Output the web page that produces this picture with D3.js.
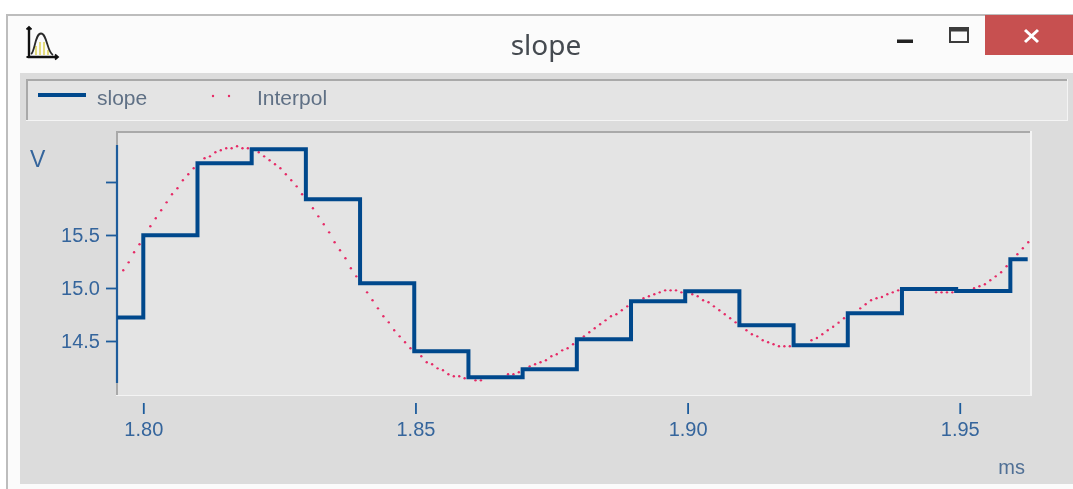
<!DOCTYPE html>
<html>
<head>
<meta charset="utf-8">
<title>slope</title>
<script src="https://cdn.jsdelivr.net/npm/d3@7/dist/d3.min.js"></script>
<style>
html,body{margin:0;padding:0;background:#fff;overflow:hidden}
svg{display:block;filter:blur(0.4px)}
text{font-family:"Liberation Sans",Arial,sans-serif}
</style>
</head>
<body>
<div id="chart"></div>
<script>
// Step series "slope": start time of each step (ms) and its value (V)
const stepTimes = [1.7952,1.80,1.81,1.82,1.83,1.84,1.85,1.86,1.87,1.88,1.89,1.90,1.91,1.92,1.93,1.94,1.95,1.96,1.9632];
const stepValues = [14.722,15.497,16.176,16.308,15.837,15.044,14.403,14.158,14.233,14.516,14.875,14.969,14.648,14.459,14.761,14.991,14.972,15.271,15.271];

// Dotted series "Interpol": visible samples (ms, V); samples hidden under the step line are left out
const interpTimes = [1.796,1.797,1.798,1.799,1.801,1.802,1.803,1.804,1.805,1.806,1.807,1.808,1.809,1.811,1.812,1.813,1.814,1.815,1.816,1.817,1.818,1.819,1.821,1.822,1.823,1.824,1.825,1.826,1.827,1.828,1.829,1.831,1.832,1.833,1.834,1.835,1.836,1.837,1.838,1.839,1.841,1.842,1.843,1.844,1.845,1.846,1.847,1.848,1.849,1.851,1.852,1.853,1.854,1.855,1.856,1.857,1.858,1.859,1.861,1.862,1.867,1.868,1.869,1.871,1.872,1.873,1.874,1.875,1.876,1.877,1.878,1.879,1.881,1.882,1.883,1.884,1.885,1.886,1.887,1.888,1.889,1.892,1.893,1.894,1.895,1.896,1.897,1.898,1.899,1.901,1.902,1.903,1.904,1.905,1.906,1.907,1.908,1.909,1.911,1.912,1.913,1.914,1.915,1.916,1.917,1.918,1.919,1.923,1.924,1.925,1.926,1.927,1.928,1.929,1.932,1.933,1.934,1.935,1.936,1.937,1.938,1.939,1.946,1.947,1.948,1.949,1.953,1.954,1.955,1.956,1.957,1.958,1.959,1.961,1.962,1.963];
const interpValues = [15.167,15.242,15.337,15.412,15.582,15.658,15.733,15.808,15.884,15.941,16.016,16.073,16.129,16.224,16.242,16.28,16.299,16.318,16.318,16.337,16.318,16.318,16.28,16.242,16.205,16.167,16.129,16.073,16.016,15.959,15.884,15.752,15.676,15.601,15.525,15.431,15.356,15.28,15.186,15.11,14.959,14.884,14.808,14.733,14.676,14.601,14.544,14.488,14.431,14.356,14.299,14.28,14.242,14.224,14.186,14.167,14.167,14.148,14.129,14.129,14.186,14.186,14.205,14.261,14.28,14.299,14.318,14.356,14.375,14.412,14.431,14.469,14.544,14.582,14.62,14.658,14.695,14.733,14.752,14.79,14.827,14.903,14.922,14.941,14.959,14.978,14.978,14.978,14.959,14.941,14.922,14.884,14.865,14.827,14.79,14.752,14.714,14.676,14.601,14.563,14.544,14.507,14.488,14.469,14.45,14.45,14.45,14.507,14.528,14.563,14.601,14.635,14.673,14.714,14.808,14.846,14.884,14.903,14.915,14.941,14.959,14.978,14.959,14.959,14.959,14.959,14.997,15.016,15.035,15.073,15.11,15.148,15.205,15.318,15.375,15.431];

// Axis content
const xTicks = [1.80,1.85,1.90,1.95];
const xTickLabels = ["1.80","1.85","1.90","1.95"];
const yTicks = [14.5,15.0,15.5,16.0];
const yTickLabels = ["14.5","15.0","15.5",""];
const xUnit = "ms", yUnit = "V";
const chartTitle = "slope";
const legendNames = ["slope","Interpol"];

// The samples run slightly slower than the printed time axis
const clock = 0.9956, clockOrigin = 1.80, interpShift = 0.0003;
const sampleTime = t => clockOrigin + (t - clockOrigin) * clock;

const W = 1073, H = 489;
const plot = {l:117, r:1030, t:131, b:395};
const BLUE = "#00488c", AXIS = "#1d5c9c", TXT = "#35659c", DOT = "#e62a66";

const svg = d3.select("#chart").append("svg").attr("width",W).attr("height",H);
const rect = (x,y,w,h,f,g=svg) => g.append("rect").attr("x",x).attr("y",y).attr("width",w).attr("height",h).attr("fill",f);

// Window frame
rect(0,0,W,H,"#ffffff");
rect(6,14,W-6,H-14,"#bdbdbd");
rect(8,16,W-8,H-16,"#fbfbfb");
rect(985,15,88,40,"#c75050");
rect(20,73,W-20,411,"#dcdcdc");

// Title
svg.append("text").attr("x",546).attr("y",55).attr("text-anchor","middle")
  .style("font-family","'Noto Sans','Open Sans',sans-serif").attr("font-size",28).attr("fill","#454a50").text(chartTitle);

// Window buttons
rect(897,39.5,16,3.5,"#222");
svg.append("rect").attr("x",950).attr("y",28).attr("width",18).attr("height",14).attr("fill","none").attr("stroke","#3c3c3c").attr("stroke-width",2);
rect(950,28,18,3.5,"#3c3c3c");
svg.append("path").attr("d","M1025 30L1038 42M1038 30L1025 42").attr("stroke","#fff").attr("stroke-width",3).attr("fill","none");

// App icon
const icon = svg.append("g").attr("fill","none");
icon.append("path").attr("d","M36 46V55M40 42V55M44 42V55M48 50V55").attr("stroke","#d9cc3a").attr("stroke-width",1.3);
icon.append("path").attr("d","M31 54C35 52 35 33.5 41 33.5C47 33.5 47 52 53 55").attr("stroke","#2a2a2a").attr("stroke-width",1.8);
icon.append("path").attr("d","M29 28V57H57").attr("stroke","#111").attr("stroke-width",2.4);
icon.append("path").attr("d","M26.5 29.5L29 27L31.5 29.5M55 54.5L58 57L55 59.5M26.5 57H30").attr("stroke","#111").attr("stroke-width",1.8);

// Legend box
rect(26,79,1042,42,"#f4f4f4");
rect(26,79,1041,41,"#a9a9a9");
rect(28,81,1039,39,"#e4e4e4");
svg.append("line").attr("x1",38).attr("x2",86).attr("y1",95).attr("y2",95).attr("stroke",BLUE).attr("stroke-width",4);
svg.selectAll(".ldot").data([213,229]).join("circle").attr("class","ldot").attr("cx",d=>d).attr("cy",96).attr("r",1.2).attr("fill",DOT);
svg.append("text").attr("x",97).attr("y",105).attr("font-size",21).attr("fill","#5f7085").text(legendNames[0]);
svg.append("text").attr("x",257).attr("y",105).attr("font-size",21).attr("fill","#5f7085").text(legendNames[1]);

// Plot background
rect(plot.l-1,plot.t,plot.r-plot.l+3,plot.b-plot.t+1,"#f4f4f4");
rect(plot.l-1,plot.t,plot.r-plot.l+1,plot.b-plot.t,"#a9a9a9");
rect(plot.l+1,plot.t+2,plot.r-plot.l-1,plot.b-plot.t-2,"#e4e4e4");

// Scales
const x = d3.scaleLinear().domain([1.7952,1.9630]).range([143.3+5443*(1.7952-1.80),143.3+5443*(1.9630-1.80)]);
const y = d3.scaleLinear().domain([13.9906,16.481]).range([plot.b,plot.t]);

// Axes
const yAxis = d3.axisLeft(y).tickValues(yTicks).tickSize(11).tickPadding(6).tickFormat((d,i)=>yTickLabels[i]);
const gy = svg.append("g").attr("transform",`translate(${plot.l},0)`).call(yAxis);
gy.select(".domain").remove();
gy.selectAll("line").attr("stroke",AXIS).attr("stroke-width",1.8);
gy.selectAll("text").attr("font-size",20).attr("fill",TXT).style("font-family","'Liberation Sans',Arial,sans-serif");
svg.append("line").attr("x1",plot.l).attr("x2",plot.l).attr("y1",145).attr("y2",383).attr("stroke",AXIS).attr("stroke-width",2.2);

const xAxis = d3.axisBottom(x).tickValues(xTicks).tickSize(11).tickPadding(8).tickFormat((d,i)=>xTickLabels[i]);
const gx = svg.append("g").attr("transform","translate(0,403)").call(xAxis);
gx.select(".domain").remove();
gx.selectAll("line").attr("stroke",AXIS).attr("stroke-width",1.8);
gx.selectAll("text").attr("font-size",20).attr("fill",TXT).style("font-family","'Liberation Sans',Arial,sans-serif");

svg.append("text").attr("x",30).attr("y",167).attr("font-size",23).attr("fill",TXT).text(yUnit);
svg.append("text").attr("x",1025).attr("y",474).attr("text-anchor","end").attr("font-size",20).attr("fill","#4f6f95").text(xUnit);

// Marks: dots lie under the step line
svg.append("g").selectAll("circle").data(interpTimes).join("circle")
  .attr("cx",d=>x(sampleTime(d)+interpShift))
  .attr("cy",(d,i)=>y(interpValues[i]))
  .attr("r",1.2).attr("fill",DOT);

const stepLine = d3.line().curve(d3.curveStepAfter).x(d=>x(sampleTime(d))).y((d,i)=>y(stepValues[i]));
svg.append("path").datum(stepTimes).attr("d",stepLine).attr("fill","none")
  .attr("stroke",BLUE).attr("stroke-width",4).attr("stroke-linejoin","miter");
</script>
</body>
</html>
